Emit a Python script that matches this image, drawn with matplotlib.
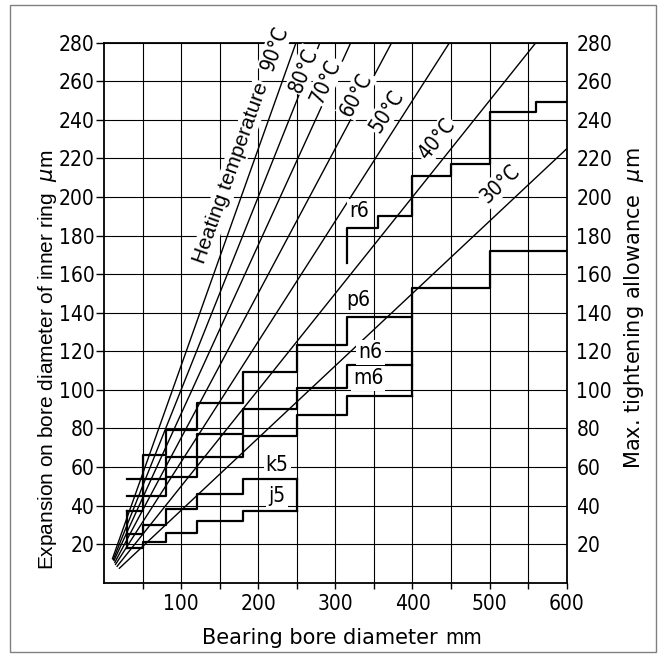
import math
import matplotlib
matplotlib.use('Agg')
import matplotlib.pyplot as plt
from matplotlib import font_manager as fm
from matplotlib.patches import Rectangle

names = {f.name for f in fm.fontManager.ttflist}
if 'Liberation Sans Narrow' in names:
    NARROW = dict(family='Liberation Sans Narrow')
else:
    NARROW = dict(family='DejaVu Sans', stretch='condensed')
SANS = dict(family=['DejaVu Sans'])
ARIAL = dict(family=['Liberation Sans', 'DejaVu Sans'])

# ---------------- data ----------------
x_tick_labels = [100, 200, 300, 400, 500, 600]
y_tick_labels = [20, 40, 60, 80, 100, 120, 140, 160, 180, 200, 220, 240, 260, 280]

# fit step curves (bore diameter boundaries, max tightening allowance)
bounds_j5k5 = [30, 50, 80, 120, 180, 250]
j5 = [18, 21, 26, 32, 37]
k5 = [25, 30, 38, 46, 54]
bounds_m6n6 = [30, 50, 80, 120, 180, 250, 315, 400]
m6 = [37, 45, 55, 65, 76, 87, 97]
n6 = [45, 54, 65, 77, 90, 101, 113]
bounds_p6 = [30, 50, 80, 120, 180, 250, 315, 400, 500, 600]
p6 = [54, 66, 79, 93, 109, 123, 138, 153, 172]
bounds_r6 = [315, 355, 400, 450, 500, 560, 600]
r6 = [184, 190, 211, 217, 244, 249]
r6_lead_in = 166

# heating temperature lines: start (d, v) and end (d, v)
temps = [30, 40, 50, 60, 70, 80, 90]
line_start_d = [20, 17, 15, 14, 13, 12, 11]
line_start_v = [7.5, 8.5, 9.5, 10.5, 11.5, 12, 12.5]
line_end_d = [600, 560, 448, 373, 320, 280, 249]
line_end_v = [225, 280, 280, 280, 280, 280, 280]
# temperature label centres
temp_label_d = [513.5, 431.4, 366.5, 327.6, 287.4, 258.8, 221.7]
temp_label_v = [206.6, 229.9, 244.6, 253.2, 260.1, 265.8, 277.1]
heating_text_pos = (164.5, 212.3)

fit_names = ['j5', 'k5', 'm6', 'n6', 'p6', 'r6']
fit_label_d = [224.5, 224.5, 342.3, 345.6, 329.8, 330.7]
fit_label_v = [45, 61, 105.9, 119.4, 146.6, 192.7]

# ---------------- figure ----------------
W, H = 665, 667
fig = plt.figure(figsize=(W / 100, H / 100), dpi=100)
L, R, T, B = 104, 566.7, 42.7, 582.7
ax = fig.add_axes([L / W, 1 - B / H, (R - L) / W, (B - T) / H])
ax.set_xlim(0, 600)
ax.set_ylim(0, 280)

ax.set_xticks(x_tick_labels)
ax.set_xticks([50, 150, 250, 350, 450, 550], minor=True)
ax.set_xticklabels([str(v) for v in x_tick_labels], fontsize=15, **NARROW)
ax.set_yticks(y_tick_labels)
ax.set_yticklabels([str(v) for v in y_tick_labels], fontsize=15, **NARROW)
ax.tick_params(axis='x', which='both', direction='out', length=4, width=1, pad=4)
ax.tick_params(axis='y', which='both', left=True, right=False, labelleft=True,
               labelright=True, direction='out', length=6, width=1, pad=1)
for t in ax.yaxis.get_major_ticks():
    t.label2.set_fontsize(15)
    t.label2.set_fontfamily(NARROW['family'])
    if 'stretch' in NARROW:
        t.label2.set_fontstretch(NARROW['stretch'])

for s in ax.spines.values():
    s.set_linewidth(1.3)
    s.set_color('black')

ax.grid(which='both', color='black', linewidth=0.8)
ax.set_axisbelow(True)

# ---------------- step curves ----------------
def step(bounds, vals):
    ax.step(bounds, vals + [vals[-1]], where='post', color='black', lw=1.6, zorder=3)

step(bounds_j5k5, j5)
step(bounds_j5k5, k5)
step(bounds_m6n6, m6)
step(bounds_m6n6, n6)
step(bounds_p6, p6)
ax.step([bounds_r6[0]] + bounds_r6, [r6_lead_in] + r6 + [r6[-1]], where='post',
        color='black', lw=1.6, zorder=3)
# closing verticals
ax.plot([bounds_j5k5[0]] * 2, [j5[0], m6[0]], color='black', lw=1.6, zorder=3)
ax.plot([bounds_j5k5[-1]] * 2, [j5[-1], k5[-1]], color='black', lw=1.6, zorder=3)
ax.plot([bounds_m6n6[-1]] * 2, [m6[-1], p6[6]], color='black', lw=1.6, zorder=3)

# ---------------- heating lines ----------------
for i, t in enumerate(temps):
    ax.plot([line_start_d[i], line_end_d[i]], [line_start_v[i], line_end_v[i]],
            color='black', lw=1.0, zorder=4)

def line_angle(i):
    p0 = ax.transData.transform((line_start_d[i], line_start_v[i]))
    p1 = ax.transData.transform((line_end_d[i], line_end_v[i]))
    return math.degrees(math.atan2(p1[1] - p0[1], p1[0] - p0[0]))

wbox = dict(facecolor='white', edgecolor='none', pad=1.0)
for i, t in enumerate(temps):
    ang = line_angle(i)
    ax.text(temp_label_d[i], temp_label_v[i], f'{t}°C', rotation=ang,
            rotation_mode='anchor', ha='center', va='center', fontsize=15,
            bbox=wbox, zorder=6, clip_on=False, **NARROW)
ax.text(heating_text_pos[0], heating_text_pos[1], 'Heating temperature',
        rotation=line_angle(len(temps) - 1), rotation_mode='anchor',
        ha='center', va='center', fontsize=15, bbox=wbox, zorder=6, **ARIAL)

for i, n in enumerate(fit_names):
    ax.text(fit_label_d[i], fit_label_v[i], n, ha='center', va='center',
            fontsize=15, bbox=dict(facecolor='white', edgecolor='none', pad=1.5),
            zorder=7, **NARROW)

# ---------------- axis labels ----------------
fig.text(48 / W, 1 - 360 / H, 'Expansion on bore diameter of inner ring  $\\mu$m',
         rotation=90, ha='center', va='center', fontsize=15, **ARIAL)
fig.text(634 / W, 1 - 308 / H, 'Max. tightening allowance  $\\mu$m',
         rotation=90, ha='center', va='center', fontsize=15, **SANS)
fig.text(320 / W, 1 - 638 / H, 'Bearing bore diameter', ha='center', va='center',
         fontsize=15, **SANS)
fig.text(464 / W, 1 - 638 / H, 'mm', ha='center', va='center', fontsize=15, **NARROW)

# outer frame
fig.patches.append(Rectangle((10 / W, 1 - 652 / H), (656 - 10) / W, (652 - 5) / H,
                             transform=fig.transFigure, fill=False,
                             edgecolor='#808080', lw=1.0))

fig.savefig('out.png', dpi=100)
